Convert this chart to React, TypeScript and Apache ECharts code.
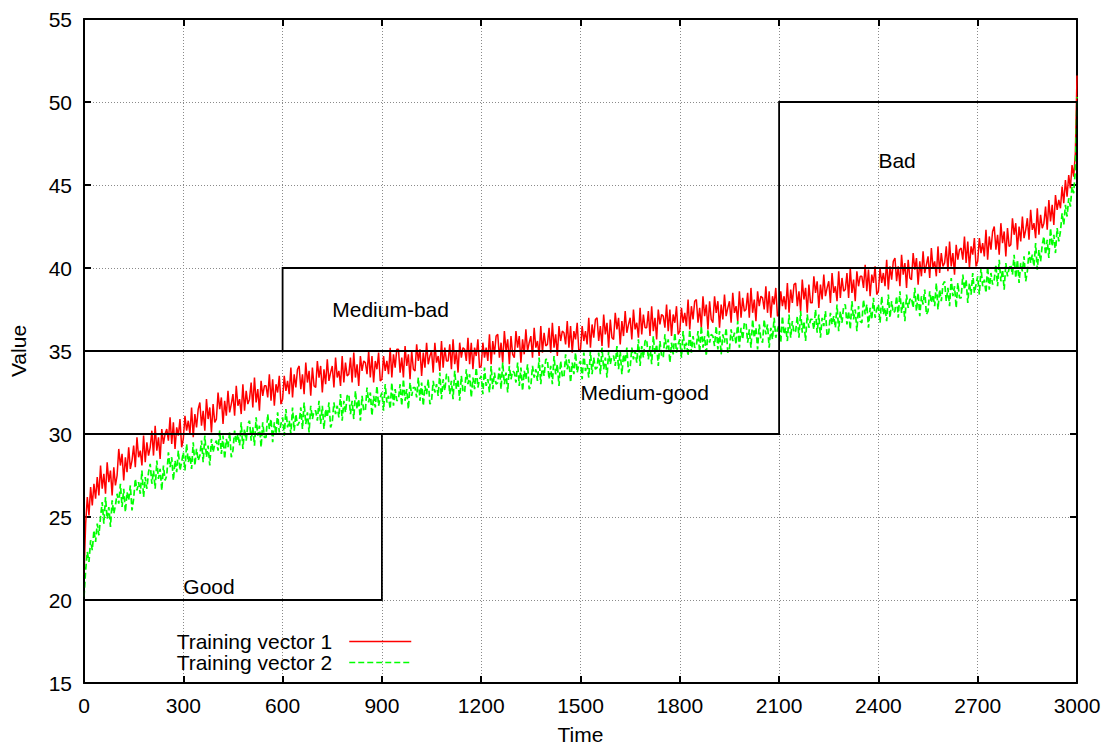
import React, { useEffect, useRef } from "react";
import * as echarts from "echarts";

// ---- data ----
const TIME_STEP = 5; // one sample every 5 time units, 0..3000

const RED = [
  21.5, 24.6, 26.2, 25.1, 26.8, 25.7, 27.0, 26.1, 27.4, 26.3,
  28.1, 26.7, 27.6, 26.4, 28.3, 27.1, 27.8, 26.3, 28.0, 26.9,
  27.5, 29.1, 28.1, 28.8, 27.2, 28.6, 27.7, 29.2, 27.9, 28.4,
  29.3, 28.0, 29.8, 28.6, 29.0, 28.1, 29.9, 28.3, 29.5, 28.7,
  29.2, 30.2, 28.7, 30.5, 29.0, 29.8, 28.5, 30.3, 29.4, 30.0,
  30.3, 29.6, 31.0, 29.4, 30.7, 29.1, 30.4, 29.9, 30.9, 29.2,
  29.7, 31.1, 30.2, 30.8, 30.0, 31.6, 29.8, 31.2, 30.4, 31.5,
  31.9, 30.5, 31.4, 30.2, 32.1, 30.9, 31.6, 30.1, 31.8, 30.7,
  30.9, 32.5, 31.5, 32.2, 30.6, 32.0, 31.1, 32.6, 31.3, 31.8,
  32.4, 31.1, 32.9, 31.7, 32.1, 31.2, 33.0, 31.4, 32.6, 31.8,
  32.1, 33.1, 31.6, 33.4, 31.9, 32.7, 31.4, 33.2, 32.3, 32.9,
  32.9, 32.2, 33.6, 32.0, 33.3, 31.7, 33.0, 32.5, 33.5, 31.8,
  32.1, 33.5, 32.6, 33.2, 32.4, 34.0, 32.2, 33.6, 32.8, 33.9,
  34.1, 32.7, 33.6, 32.4, 34.3, 33.1, 33.8, 32.3, 34.0, 32.9,
  32.8, 34.4, 33.4, 34.1, 32.5, 33.9, 33.0, 34.5, 33.2, 33.7,
  34.1, 32.8, 34.6, 33.4, 33.8, 32.9, 34.7, 33.1, 34.3, 33.5,
  33.6, 34.6, 33.1, 34.9, 33.4, 34.2, 32.9, 34.7, 33.8, 34.4,
  34.3, 33.6, 35.0, 33.4, 34.7, 33.1, 34.4, 33.9, 34.9, 33.2,
  33.3, 34.7, 33.8, 34.4, 33.6, 35.2, 33.4, 34.8, 34.0, 35.1,
  35.1, 33.7, 34.6, 33.4, 35.3, 34.1, 34.8, 33.3, 35.0, 33.9,
  33.8, 35.4, 34.4, 35.1, 33.5, 34.9, 34.0, 35.5, 34.2, 34.7,
  35.0, 33.7, 35.5, 34.3, 34.7, 33.8, 35.6, 34.0, 35.2, 34.4,
  34.4, 35.4, 33.9, 35.7, 34.2, 35.0, 33.7, 35.5, 34.6, 35.2,
  35.1, 34.4, 35.8, 34.2, 35.5, 33.9, 35.2, 34.7, 35.7, 34.0,
  34.1, 35.5, 34.6, 35.2, 34.4, 36.0, 34.2, 35.6, 34.8, 35.9,
  36.0, 34.6, 35.5, 34.3, 36.2, 35.0, 35.7, 34.2, 35.9, 34.8,
  34.6, 36.2, 35.2, 35.9, 34.3, 35.7, 34.8, 36.3, 35.0, 35.5,
  35.9, 34.6, 36.4, 35.2, 35.6, 34.7, 36.5, 34.9, 36.1, 35.3,
  35.4, 36.4, 34.9, 36.7, 35.2, 36.0, 34.7, 36.5, 35.6, 36.2,
  36.1, 35.4, 36.8, 35.2, 36.5, 34.9, 36.2, 35.7, 36.7, 35.0,
  35.1, 36.5, 35.6, 36.2, 35.4, 37.0, 35.2, 36.6, 35.8, 36.9,
  37.0, 35.6, 36.5, 35.3, 37.2, 36.0, 36.7, 35.2, 36.9, 35.8,
  35.7, 37.3, 36.3, 37.0, 35.4, 36.8, 35.9, 37.4, 36.1, 36.6,
  37.0, 35.7, 37.5, 36.3, 36.7, 35.8, 37.6, 36.0, 37.2, 36.4,
  36.4, 37.4, 35.9, 37.7, 36.2, 37.0, 35.7, 37.5, 36.6, 37.2,
  37.1, 36.4, 37.8, 36.2, 37.5, 35.9, 37.2, 36.7, 37.7, 36.0,
  36.2, 37.6, 36.7, 37.3, 36.5, 38.1, 36.3, 37.7, 36.9, 38.0,
  38.1, 36.7, 37.6, 36.4, 38.3, 37.1, 37.8, 36.3, 38.0, 36.9,
  36.7, 38.3, 37.3, 38.0, 36.4, 37.8, 36.9, 38.4, 37.1, 37.6,
  38.0, 36.7, 38.5, 37.3, 37.7, 36.8, 38.6, 37.0, 38.2, 37.4,
  37.5, 38.5, 37.0, 38.8, 37.3, 38.1, 36.8, 38.6, 37.7, 38.3,
  38.2, 37.5, 38.9, 37.3, 38.6, 37.0, 38.3, 37.8, 38.8, 37.1,
  37.2, 38.6, 37.7, 38.3, 37.5, 39.1, 37.3, 38.7, 37.9, 39.0,
  39.1, 37.7, 38.6, 37.4, 39.3, 38.1, 38.8, 37.3, 39.0, 37.9,
  37.9, 39.5, 38.5, 39.2, 37.6, 39.0, 38.1, 39.6, 38.3, 38.8,
  39.2, 37.9, 39.7, 38.5, 38.9, 38.0, 39.8, 38.2, 39.4, 38.6,
  38.7, 39.7, 38.2, 40.0, 38.5, 39.3, 38.0, 39.8, 38.9, 39.5,
  39.5, 38.8, 40.2, 38.6, 39.9, 38.3, 39.6, 39.1, 40.1, 38.4,
  38.6, 40.0, 39.1, 39.7, 38.9, 40.5, 38.7, 40.1, 39.3, 40.4,
  40.6, 39.2, 40.1, 38.9, 40.8, 39.6, 40.3, 38.8, 40.5, 39.4,
  39.3, 40.9, 39.9, 40.6, 39.0, 40.4, 39.5, 41.0, 39.7, 40.2,
  40.7, 39.4, 41.2, 40.0, 40.4, 39.5, 41.3, 39.7, 40.9, 40.1,
  40.3, 41.3, 39.8, 41.6, 40.1, 40.9, 39.6, 41.4, 40.5, 41.1,
  41.2, 40.5, 41.9, 40.3, 41.6, 40.0, 41.3, 40.8, 41.8, 40.1,
  40.4, 41.8, 40.9, 41.5, 40.7, 42.3, 40.5, 41.9, 41.1, 42.2,
  42.5, 41.1, 42.0, 40.8, 42.7, 41.5, 42.2, 40.7, 42.4, 41.3,
  41.4, 43.0, 42.0, 42.7, 41.1, 42.5, 41.6, 43.1, 41.8, 42.3,
  43.0, 41.7, 43.5, 42.3, 42.7, 41.8, 43.6, 42.0, 43.2, 42.4,
  42.7, 43.7, 42.3, 44.1, 42.8, 43.8, 42.6, 44.4, 43.5, 44.1,
  43.6, 44.9, 43.9, 45.3, 44.3, 45.6, 44.8, 46.2, 45.5, 46.9,
  51.6,
];

const GREEN = [
  20.2, 21.8, 22.9, 22.3, 23.6, 23.0, 24.2, 23.5, 24.6, 23.9,
  25.0, 25.9, 24.6, 26.2, 24.9, 25.6, 24.4, 26.0, 25.2, 25.7,
  26.4, 25.8, 27.0, 25.6, 26.7, 25.3, 26.5, 26.0, 26.9, 25.4,
  26.1, 27.3, 26.6, 27.1, 26.4, 27.8, 26.2, 27.4, 26.7, 27.7,
  28.2, 27.0, 27.8, 26.7, 28.4, 27.3, 27.9, 26.6, 28.1, 27.2,
  27.5, 28.9, 28.0, 28.6, 27.2, 28.4, 27.7, 29.0, 27.8, 28.3,
  28.9, 27.8, 29.4, 28.3, 28.7, 27.9, 29.5, 28.1, 29.1, 28.4,
  28.7, 29.6, 28.3, 29.9, 28.6, 29.3, 28.1, 29.7, 28.9, 29.4,
  29.6, 29.0, 30.2, 28.8, 29.9, 28.5, 29.7, 29.2, 30.1, 28.6,
  29.0, 30.2, 29.5, 30.0, 29.3, 30.7, 29.1, 30.3, 29.6, 30.6,
  30.8, 29.6, 30.4, 29.3, 31.0, 29.9, 30.5, 29.2, 30.7, 29.8,
  29.8, 31.2, 30.3, 30.9, 29.5, 30.7, 30.0, 31.3, 30.1, 30.6,
  31.0, 29.9, 31.5, 30.4, 30.8, 30.0, 31.6, 30.2, 31.2, 30.5,
  30.7, 31.6, 30.3, 31.9, 30.6, 31.3, 30.1, 31.7, 30.9, 31.4,
  31.4, 30.8, 32.0, 30.6, 31.7, 30.3, 31.5, 31.0, 31.9, 30.4,
  30.7, 31.9, 31.2, 31.7, 31.0, 32.4, 30.8, 32.0, 31.3, 32.3,
  32.4, 31.2, 32.0, 30.9, 32.6, 31.5, 32.1, 30.8, 32.3, 31.4,
  31.4, 32.8, 31.9, 32.5, 31.1, 32.3, 31.6, 32.9, 31.7, 32.2,
  32.5, 31.4, 33.0, 31.9, 32.3, 31.5, 33.1, 31.7, 32.7, 32.0,
  32.1, 33.0, 31.7, 33.3, 32.0, 32.7, 31.5, 33.1, 32.3, 32.8,
  32.8, 32.2, 33.4, 32.0, 33.1, 31.7, 32.9, 32.4, 33.3, 31.8,
  32.0, 33.2, 32.5, 33.0, 32.3, 33.7, 32.1, 33.3, 32.6, 33.6,
  33.6, 32.4, 33.2, 32.1, 33.8, 32.7, 33.3, 32.0, 33.5, 32.6,
  32.5, 33.9, 33.0, 33.6, 32.2, 33.4, 32.7, 34.0, 32.8, 33.3,
  33.5, 32.4, 34.0, 32.9, 33.3, 32.5, 34.1, 32.7, 33.7, 33.0,
  33.1, 34.0, 32.7, 34.3, 33.0, 33.7, 32.5, 34.1, 33.3, 33.8,
  33.7, 33.1, 34.3, 32.9, 34.0, 32.6, 33.8, 33.3, 34.2, 32.7,
  32.9, 34.1, 33.4, 33.9, 33.2, 34.6, 33.0, 34.2, 33.5, 34.5,
  34.5, 33.3, 34.1, 33.0, 34.7, 33.6, 34.2, 32.9, 34.4, 33.5,
  33.4, 34.8, 33.9, 34.5, 33.1, 34.3, 33.6, 34.9, 33.7, 34.2,
  34.4, 33.3, 34.9, 33.8, 34.2, 33.4, 35.0, 33.6, 34.6, 33.9,
  34.0, 34.9, 33.6, 35.2, 33.9, 34.6, 33.4, 35.0, 34.2, 34.7,
  34.7, 34.1, 35.3, 33.9, 35.0, 33.6, 34.8, 34.3, 35.2, 33.7,
  34.0, 35.2, 34.5, 35.0, 34.3, 35.7, 34.1, 35.3, 34.6, 35.6,
  35.7, 34.5, 35.3, 34.2, 35.9, 34.8, 35.4, 34.1, 35.6, 34.7,
  34.6, 36.0, 35.1, 35.7, 34.3, 35.5, 34.8, 36.1, 34.9, 35.4,
  35.7, 34.6, 36.2, 35.1, 35.5, 34.7, 36.3, 34.9, 35.9, 35.2,
  35.3, 36.2, 34.9, 36.5, 35.2, 35.9, 34.7, 36.3, 35.5, 36.0,
  35.9, 35.3, 36.5, 35.1, 36.2, 34.8, 36.0, 35.5, 36.4, 34.9,
  35.1, 36.3, 35.6, 36.1, 35.4, 36.8, 35.2, 36.4, 35.7, 36.7,
  36.7, 35.5, 36.3, 35.2, 36.9, 35.8, 36.4, 35.1, 36.6, 35.7,
  35.5, 36.9, 36.0, 36.6, 35.2, 36.4, 35.7, 37.0, 35.8, 36.3,
  36.6, 35.5, 37.1, 36.0, 36.4, 35.6, 37.2, 35.8, 36.8, 36.1,
  36.2, 37.1, 35.8, 37.4, 36.1, 36.8, 35.6, 37.2, 36.4, 36.9,
  36.9, 36.3, 37.5, 36.1, 37.2, 35.8, 37.0, 36.5, 37.4, 35.9,
  36.1, 37.3, 36.6, 37.1, 36.4, 37.8, 36.2, 37.4, 36.7, 37.7,
  37.8, 36.6, 37.4, 36.3, 38.0, 36.9, 37.5, 36.2, 37.7, 36.8,
  36.7, 38.1, 37.2, 37.8, 36.4, 37.6, 36.9, 38.2, 37.0, 37.5,
  37.8, 36.7, 38.3, 37.2, 37.6, 36.8, 38.4, 37.0, 38.0, 37.3,
  37.4, 38.3, 37.0, 38.6, 37.3, 38.0, 36.8, 38.4, 37.6, 38.1,
  38.2, 37.6, 38.8, 37.4, 38.5, 37.1, 38.3, 37.8, 38.7, 37.2,
  37.4, 38.6, 37.9, 38.4, 37.7, 39.1, 37.5, 38.7, 38.0, 39.0,
  39.2, 38.0, 38.8, 37.7, 39.4, 38.3, 38.9, 37.6, 39.1, 38.2,
  38.2, 39.6, 38.7, 39.3, 37.9, 39.1, 38.4, 39.7, 38.5, 39.0,
  39.5, 38.4, 40.0, 38.9, 39.3, 38.5, 40.1, 38.7, 39.7, 39.0,
  39.3, 40.2, 38.9, 40.5, 39.2, 39.9, 38.7, 40.3, 39.5, 40.0,
  40.2, 39.6, 40.8, 39.4, 40.5, 39.1, 40.3, 39.8, 40.7, 39.2,
  39.8, 41.0, 40.3, 40.8, 40.1, 41.5, 39.9, 41.1, 40.4, 41.4,
  41.9, 40.8, 41.7, 40.6, 42.4, 41.3, 42.0, 40.9, 42.4, 41.6,
  42.2, 43.3, 42.6, 43.8, 43.1, 44.2, 43.7, 44.9, 44.5, 45.9,
  50.3,
];

const SERIES_NAMES = ["Training vector 1", "Training vector 2"];

// zone rectangles: [time0, value0, time1, value1]
const ZONE_RECTS = [
  [0, 20, 900, 30],
  [0, 30, 2100, 35],
  [600, 35, 3000, 40],
  [2100, 35, 3000, 50],
];
const ZONE_NAMES = ["Good", "Medium-good", "Medium-bad", "Bad"];
const ZONE_LABEL_AT = [
  [300, 20.8],
  [1500, 32.5],
  [750, 37.5],
  [2400, 46.5],
];

const X_MIN = 0, X_MAX = 3000, X_STEP = 300;
const Y_MIN = 15, Y_MAX = 55, Y_STEP = 5;

const FONT = '"Liberation Sans", Arial, Helvetica, sans-serif';
const FS = 21;

export default function App() {
  const ref = useRef<HTMLDivElement>(null);
  useEffect(() => {
    const chart = echarts.init(ref.current as HTMLDivElement, null, { renderer: "svg" });
    const redData = RED.map((v, i) => [i * TIME_STEP, v]);
    const greenData = GREEN.map((v, i) => [i * TIME_STEP, v]);
    const axisLine = { show: true, onZero: false, lineStyle: { color: "#000", width: 2 } };
    const axisTick = { show: true, inside: true, length: 7, lineStyle: { color: "#000", width: 2 } };
    const split = { show: true, lineStyle: { color: "#8a8a8a", width: 1, type: [1, 2] as any } };
    const option: any = {
      animation: false,
      backgroundColor: "#fff",
      textStyle: { fontFamily: FONT },
      grid: { left: 84, right: 32, top: 19, bottom: 62, containLabel: false, outerBoundsMode: "none" },
      legend: {
        data: SERIES_NAMES,
        orient: "vertical",
        align: "right",
        right: 1109 - 412,
        top: 631,
        itemWidth: 62,
        itemHeight: 10,
        itemGap: 0,
        padding: 0,
        lineStyle: { width: 1.5 },
        itemStyle: { opacity: 0 },
        textStyle: { fontSize: FS, color: "#000", fontFamily: FONT, padding: [0, 12, 0, 0] },
      },
      xAxis: [
        {
          type: "value", min: X_MIN, max: X_MAX, interval: X_STEP, position: "bottom",
          name: "Time", nameLocation: "middle", nameGap: 41,
          nameTextStyle: { fontSize: FS, color: "#000", fontFamily: FONT },
          axisLine, axisTick,
          axisLabel: { fontSize: FS, color: "#000", margin: 12, fontFamily: FONT, formatter: (v: number) => String(v) },
          splitLine: split,
        },
        {
          type: "value", min: X_MIN, max: X_MAX, interval: X_STEP, position: "top",
          axisLine, axisTick, axisLabel: { show: false }, splitLine: { show: false },
        },
      ],
      yAxis: [
        {
          type: "value", min: Y_MIN, max: Y_MAX, interval: Y_STEP, position: "left",
          name: "Value", nameLocation: "middle", nameGap: 55, nameRotate: 90,
          nameTextStyle: { fontSize: FS, color: "#000", fontFamily: FONT },
          axisLine, axisTick,
          axisLabel: { fontSize: FS, color: "#000", margin: 12, fontFamily: FONT, formatter: (v: number) => String(v) },
          splitLine: split,
        },
        {
          type: "value", min: Y_MIN, max: Y_MAX, interval: Y_STEP, position: "right",
          axisLine, axisTick, axisLabel: { show: false }, splitLine: { show: false },
        },
      ],
      series: [
        {
          type: "line", name: SERIES_NAMES[0], data: redData, symbol: "none",
          lineStyle: { color: "#ff0000", width: 1.5 }, itemStyle: { color: "#ff0000" },
          z: 3, silent: true,
        },
        {
          type: "line", name: SERIES_NAMES[1], data: greenData, symbol: "none",
          lineStyle: { color: "#00ff00", width: 1.7, type: [6, 3] }, itemStyle: { color: "#00ff00" },
          z: 3, silent: true,
        },
        {
          type: "custom", name: "zones", silent: true, z: 5,
          data: ZONE_RECTS,
          renderItem: (_p: any, api: any) => {
            const a = api.coord([api.value(0), api.value(1)]);
            const b = api.coord([api.value(2), api.value(3)]);
            return {
              type: "rect",
              shape: {
                x: Math.min(a[0], b[0]), y: Math.min(a[1], b[1]),
                width: Math.abs(b[0] - a[0]), height: Math.abs(b[1] - a[1]),
              },
              style: { fill: "none", stroke: "#000", lineWidth: 1.8 },
            };
          },
        },
        {
          type: "custom", name: "zoneLabels", silent: true, z: 6,
          data: ZONE_LABEL_AT,
          renderItem: (p: any, api: any) => {
            const a = api.coord([api.value(0), api.value(1)]);
            return {
              type: "text", x: a[0], y: a[1],
              style: {
                text: ZONE_NAMES[p.dataIndex], fill: "#000", fontSize: FS, fontFamily: FONT,
                align: "left", verticalAlign: "middle",
              },
            };
          },
        },
      ],
    };
    chart.setOption(option);
    return () => chart.dispose();
  }, []);
  return (
    <div
      ref={ref}
      style={{ position: "fixed", left: 0, top: 0, width: 1109, height: 745, background: "#fff" }}
    />
  );
}
